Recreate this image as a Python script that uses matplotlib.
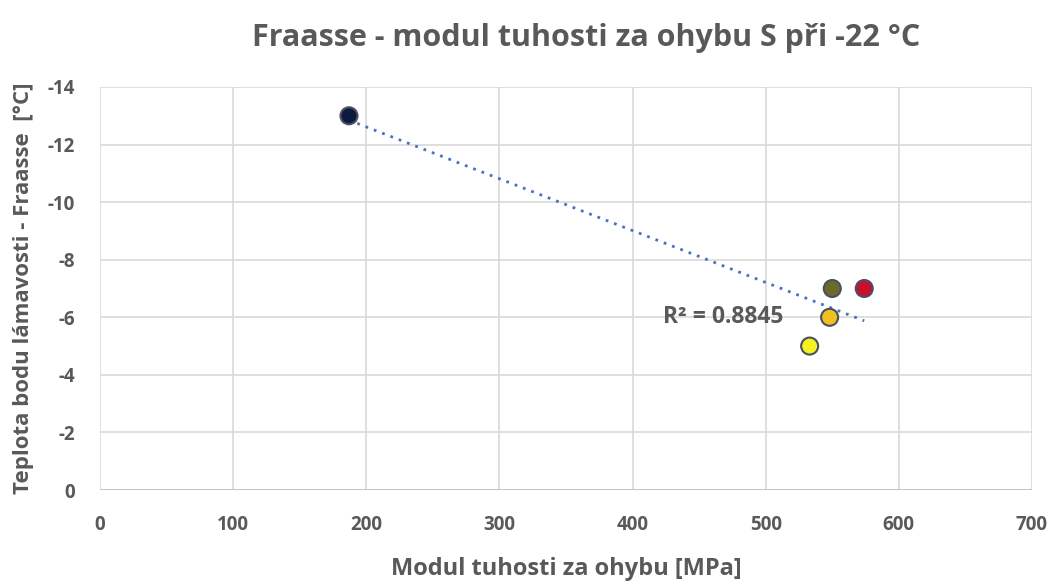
import numpy as np
import matplotlib.pyplot as plt

plt.rcParams['font.family'] = ['Open Sans', 'DejaVu Sans']
plt.rcParams['axes.unicode_minus'] = False

# data
modul = [187, 550, 574, 548, 533]
teplota = [-13, -7, -7, -6, -5]
barvy = ["#0d1a40", "#6b6a2a", "#c8102e", "#f0c020", "#f5f020"]
r2_text = "R² = 0.8845"

grey = "#595959"

fig = plt.figure(figsize=(10.56, 5.84), dpi=100)
ax = fig.add_axes([100/1056, 1 - 490/584, 932/1056, 403/584])

ax.scatter(modul, teplota, s=150, c=barvy, edgecolors="#4a5060", linewidths=1.5, zorder=3)

# lineární trend
k, q = np.polyfit(modul, teplota, 1)
xs = np.array([min(modul), max(modul)])
ax.plot(xs, k * xs + q, linestyle=(0, (1, 2.2)), color="#4472c4", lw=2, zorder=2)

ax.text(513, -6.0, r2_text, ha="right", va="center", fontsize=16.5, fontweight="bold", color=grey)

ax.set_xlim(0, 700)
ax.set_ylim(0, -14)
ax.set_xticks(range(0, 701, 100))
ax.set_yticks(range(0, -15, -2))
ax.grid(True, color="#d9d9d9", lw=1.2)
ax.set_axisbelow(True)
for s in ax.spines.values():
    s.set_visible(False)
ax.axhline(0, color="#bfbfbf", lw=1.2, zorder=1)
ax.tick_params(length=0, labelsize=13.5, labelcolor=grey)
ax.tick_params(axis="x", pad=18)
ax.tick_params(axis="y", pad=18)
for lbl in ax.get_xticklabels() + ax.get_yticklabels():
    lbl.set_fontweight("bold")

ax.set_xlabel("Modul tuhosti za ohybu [MPa]", fontsize=17, fontweight="bold", color=grey, labelpad=16)
ax.set_ylabel("Teplota bodu lámavosti - Fraasse  [°C]", fontsize=16, fontweight="bold", color=grey, labelpad=10)
fig.text(0.555, 1 - 38/584, "Fraasse - modul tuhosti za ohybu S při -22 °C", ha="center", va="center",
         fontsize=22, fontweight="bold", color=grey)

fig.savefig("out.png", dpi=100)
